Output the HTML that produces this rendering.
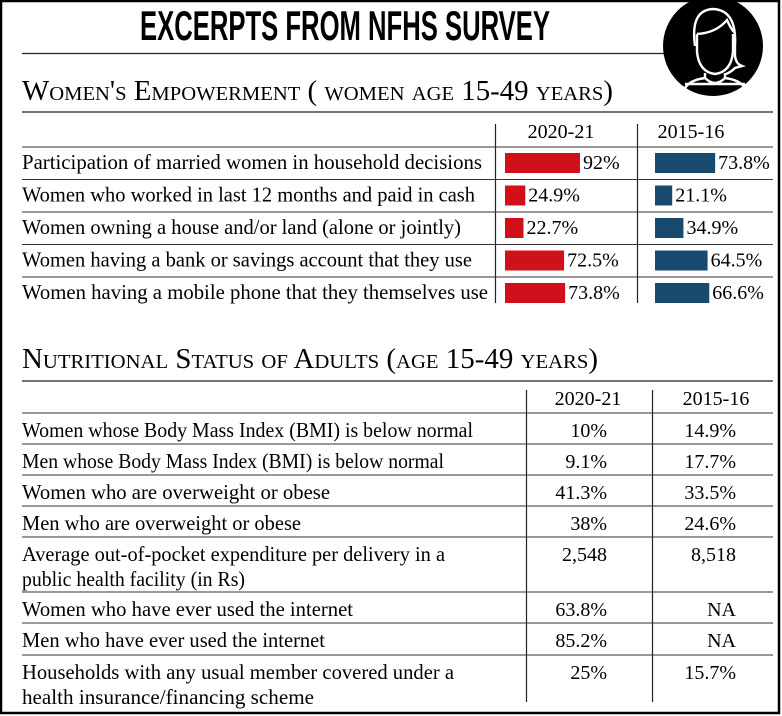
<!DOCTYPE html>
<html><head><meta charset="utf-8"><style>
html,body{margin:0;padding:0;background:#fff}
svg{display:block}
text{font-family:"Liberation Serif",serif;fill:#000}
</style></head><body>
<svg id="chart" width="782" height="716" viewBox="0 0 782 716">
<rect x="1" y="1" width="778" height="712" fill="none" stroke="#000" stroke-width="2.5"/>
<text x="140" y="40" style="font-family:'Liberation Sans Narrow','Liberation Sans',sans-serif;font-weight:bold" font-size="42" textLength="410" lengthAdjust="spacingAndGlyphs">EXCERPTS FROM NFHS SURVEY</text>
<line x1="22" y1="53.5" x2="665" y2="53.5" stroke="#222" stroke-width="1.3"/>
<g>
<circle cx="713" cy="46" r="50" fill="#000"/>
<path d="M695 46 Q690 10 713 9 Q737 10 735 46 L735 56 Q736 64 742 66 L735 68 Q731 72 726 74" fill="none" stroke="#fff" stroke-width="2.4"/>
<path d="M697 34 Q716 33 727 20 Q731 29 734 32 M697 34 L697 52 Q699 72 715 74 Q731 72 733 52 L733 34" fill="none" stroke="#fff" stroke-width="2.4"/>
<path d="M705 73 L705 78 Q690 80 685 88 M725 73 L725 78 Q740 80 745 88 M685 84 L745 84 M705 78 Q715 88 725 78" fill="none" stroke="#fff" stroke-width="2.4"/>
</g>
<text x="22" y="100" font-size="28" style="font-variant:small-caps" textLength="591" lengthAdjust="spacingAndGlyphs">Women's Empowerment ( women age 15-49 years)</text>
<line x1="22" y1="112" x2="773" y2="112" stroke="#222" stroke-width="1.2"/>
<g id="topTable"></g>
<text x="22" y="368" font-size="28" style="font-variant:small-caps" textLength="576" lengthAdjust="spacingAndGlyphs">Nutritional Status of Adults (age 15-49 years)</text>
<line x1="22" y1="381" x2="773" y2="381" stroke="#222" stroke-width="1.2"/>
<g id="botTable"></g>
</svg>
<script>
const topLabels=["Participation of married women in household decisions","Women who worked in last 12 months and paid in cash","Women owning a house and/or land (alone or jointly)","Women having a bank or savings account that they use","Women having a mobile phone that they themselves use"];
const topWidths=[460,453,439,450,466];
const vals2020=[92,24.9,22.7,72.5,73.8];
const vals2015=[73.8,21.1,34.9,64.5,66.6];
const botLabels=[["Women whose Body Mass Index (BMI) is below normal"],["Men whose Body Mass Index (BMI) is below normal"],["Women who are overweight or obese"],["Men who are overweight or obese"],["Average out-of-pocket expenditure per delivery in a","public health facility (in Rs)"],["Women who have ever used the internet"],["Men who have ever used the internet"],["Households with any usual member covered under a","health insurance/financing scheme"]];
const botWidths=[[451],[422],[308],[279],[423,223],[331],[303],[432,292]];
const botA=["10%","9.1%","41.3%","38%","2,548","63.8%","85.2%","25%"];
const botB=["14.9%","17.7%","33.5%","24.6%","8,518","NA","NA","15.7%"];
const NS="http://www.w3.org/2000/svg";
function mk(tag,attrs,parent,txt){const e=document.createElementNS(NS,tag);for(const k in attrs)e.setAttribute(k,attrs[k]);if(txt!==undefined)e.textContent=txt;parent.appendChild(e);return e;}
const xScale=v=>v*0.815;
const FS=21, VS=20;
const topG=document.getElementById('topTable');
let h=mk('text',{x:561,y:138,'font-size':VS,'text-anchor':'middle'},topG,'2020-21');


h=mk('text',{x:691,y:138,'font-size':VS,'text-anchor':'middle'},topG,'2015-16');


let l=mk('line',{x1:495.5,y1:124,x2:495.5,y2:303,stroke:'#222','stroke-width':1.2},topG);


l=mk('line',{x1:637.5,y1:124,x2:637.5,y2:303,stroke:'#222','stroke-width':1.2},topG);


const rowTops=[147,179.5,212,244.5,277];
topLabels.forEach((lab,i)=>{
  const y=rowTops[i];
  const ln=mk('line',{x1:22,y1:y,x2:773,y2:y,stroke:'#333','stroke-width':1},topG);
  
  
  const t=mk('text',{x:22,y:y+22,'font-size':FS,textLength:topWidths[i],lengthAdjust:'spacingAndGlyphs'},topG,lab);
  
  
  const w1=xScale(vals2020[i]);
  const b1=mk('rect',{x:505,y:y+6,width:w1,height:20,fill:'#d0101b'},topG);
  
  
  const v1=mk('text',{x:505+w1+3,y:y+22,'font-size':VS},topG,vals2020[i]+'%');
  
  
  const w2=xScale(vals2015[i]);
  const b2=mk('rect',{x:655,y:y+6,width:w2,height:20,fill:'#174a6e'},topG);
  
  
  const v2=mk('text',{x:655+w2+3,y:y+22,'font-size':VS},topG,vals2015[i]+'%');
  
  
});
const botG=document.getElementById('botTable');
h=mk('text',{x:588,y:405,'font-size':VS,'text-anchor':'middle'},botG,'2020-21');


h=mk('text',{x:716,y:405,'font-size':VS,'text-anchor':'middle'},botG,'2015-16');


l=mk('line',{x1:526.5,y1:390,x2:526.5,y2:702,stroke:'#222','stroke-width':1.2},botG);


l=mk('line',{x1:652.5,y1:390,x2:652.5,y2:702,stroke:'#222','stroke-width':1.2},botG);


const bTops=[413,444,475,506,537,592,623,655];
botLabels.forEach((lines,i)=>{
  const y=bTops[i];
  const ln=mk('line',{x1:22,y1:y,x2:773,y2:y,stroke:'#333','stroke-width':1},botG);
  
  
  lines.forEach((s,j)=>{
    const t=mk('text',{x:22,y:y+24+j*25,'font-size':FS,textLength:botWidths[i][j],lengthAdjust:'spacingAndGlyphs'},botG,s);
    
    
  });
  const a=mk('text',{x:607,y:y+24,'font-size':VS,'text-anchor':'end'},botG,botA[i]);
  
  
  const b=mk('text',{x:736,y:y+24,'font-size':VS,'text-anchor':'end'},botG,botB[i]);
  
  
});
</script>
</body></html>
